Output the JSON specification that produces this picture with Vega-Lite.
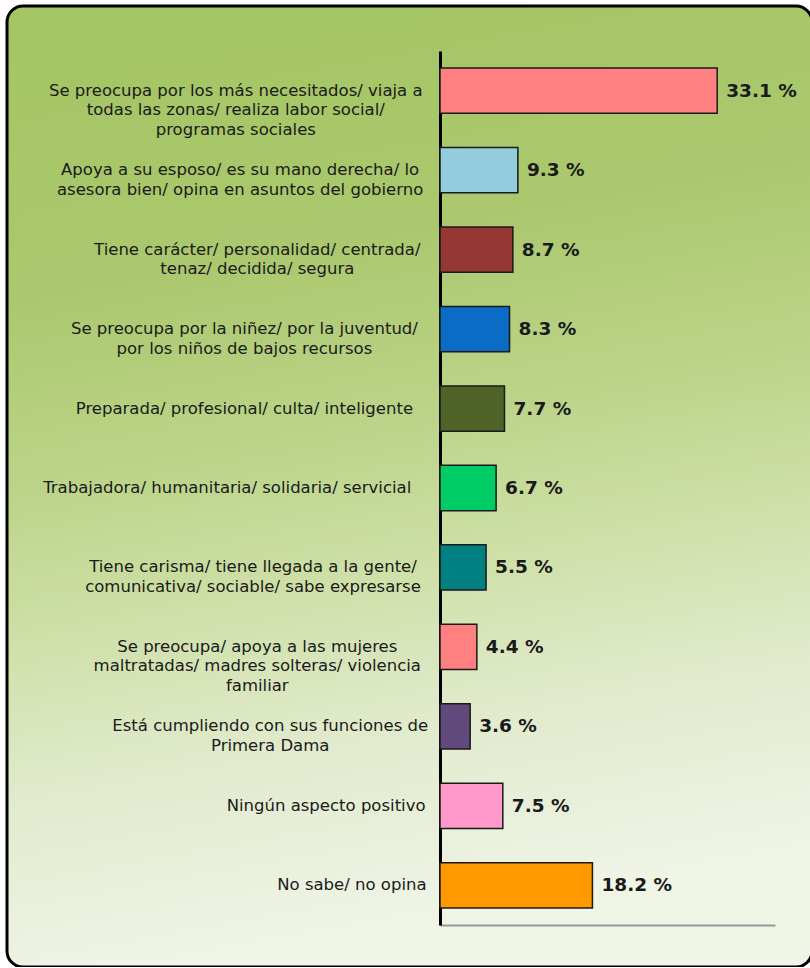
{
  "$schema": "https://vega.github.io/schema/vega-lite/v6.json",
  "autosize": "none",
  "padding": {"left": 7, "top": 6, "right": 0, "bottom": 0},
  "width": 805,
  "height": 961,
  "background": "white",
  "view": {
    "stroke": "#000000",
    "strokeWidth": 3,
    "cornerRadius": 16,
    "fill": {
      "gradient": "linear",
      "x1": 0, "y1": 0, "x2": 0.15, "y2": 1,
      "stops": [
        {"offset": 0, "color": "#a3c562"},
        {"offset": 0.3, "color": "#abc86e"},
        {"offset": 0.5, "color": "#bcd48a"},
        {"offset": 0.65, "color": "#cfe0a8"},
        {"offset": 0.8, "color": "#e0eacb"},
        {"offset": 1, "color": "#eff4e5"}
      ]
    }
  },
  "data": {
    "values": [
      {"item": "Se preocupa por los más necesitados/ viaja a|todas las zonas/ realiza labor social/|programas sociales", "value": 33.1},
      {"item": "Apoya a su esposo/ es su mano derecha/ lo|asesora bien/ opina en asuntos del gobierno", "value": 9.3},
      {"item": "Tiene carácter/ personalidad/ centrada/|tenaz/ decidida/ segura", "value": 8.7},
      {"item": "Se preocupa por la niñez/ por la juventud/|por los niños de bajos recursos", "value": 8.3},
      {"item": "Preparada/ profesional/ culta/ inteligente", "value": 7.7},
      {"item": "Trabajadora/ humanitaria/ solidaria/ servicial", "value": 6.7},
      {"item": "Tiene carisma/ tiene llegada a la gente/|comunicativa/ sociable/ sabe expresarse", "value": 5.5},
      {"item": "Se preocupa/ apoya a las mujeres|maltratadas/ madres solteras/ violencia|familiar", "value": 4.4},
      {"item": "Está cumpliendo con sus funciones de|Primera Dama", "value": 3.6},
      {"item": "Ningún aspecto positivo", "value": 7.5},
      {"item": "No sabe/ no opina", "value": 18.2}
    ]
  },
  "transform": [
    {"calculate": "format(datum.value, '.1f') + ' %'", "as": "value_label"}
  ],
  "encoding": {
    "y": {
      "field": "item",
      "type": "nominal",
      "sort": null,
      "scale": {"range": [45, 919], "paddingInner": 0.43, "paddingOuter": 0.215},
      "axis": {
        "orient": "left",
        "offset": -433,
        "title": null,
        "ticks": false,
        "labels": false,
        "domainColor": "#000000",
        "domainWidth": 3
      }
    }
  },
  "layer": [
    {
      "mark": {"type": "bar", "stroke": "#1a1a1a", "strokeWidth": 1.5},
      "encoding": {
        "x": {
          "field": "value",
          "type": "quantitative",
          "scale": {"domain": [0, 40], "range": [433, 768], "nice": false},
          "axis": {
            "orient": "bottom",
            "offset": -42,
            "title": null,
            "ticks": false,
            "labels": false,
            "grid": false,
            "domainColor": "#999999",
            "domainWidth": 2
          }
        },
        "color": {
          "field": "item",
          "type": "nominal",
          "legend": null,
          "scale": {
            "domain": [
              "Se preocupa por los más necesitados/ viaja a|todas las zonas/ realiza labor social/|programas sociales",
              "Apoya a su esposo/ es su mano derecha/ lo|asesora bien/ opina en asuntos del gobierno",
              "Tiene carácter/ personalidad/ centrada/|tenaz/ decidida/ segura",
              "Se preocupa por la niñez/ por la juventud/|por los niños de bajos recursos",
              "Preparada/ profesional/ culta/ inteligente",
              "Trabajadora/ humanitaria/ solidaria/ servicial",
              "Tiene carisma/ tiene llegada a la gente/|comunicativa/ sociable/ sabe expresarse",
              "Se preocupa/ apoya a las mujeres|maltratadas/ madres solteras/ violencia|familiar",
              "Está cumpliendo con sus funciones de|Primera Dama",
              "Ningún aspecto positivo",
              "No sabe/ no opina"
            ],
            "range": ["#ff8080", "#93cddd", "#953735", "#0a6cc4", "#4f6228", "#00cc66", "#008080", "#ff8080", "#604a7b", "#ff99cc", "#ff9900"]
          }
        }
      }
    },
    {
      "mark": {
        "type": "text",
        "align": "left",
        "baseline": "middle",
        "dx": 9,
        "font": "DejaVu Sans",
        "fontSize": 18.5,
        "fontWeight": "bold",
        "color": "#1a1a1a"
      },
      "encoding": {
        "x": {"field": "value", "type": "quantitative"},
        "text": {"field": "value_label"}
      }
    },
    {
      "mark": {
        "type": "text",
        "align": "center",
        "baseline": "middle",
        "lineBreak": "|",
        "lineHeight": 19.5,
        "font": "DejaVu Sans",
        "fontSize": 16.5,
        "color": "#1a1a1a",
        "dx": {"expr": "-15 - max(length(split(datum.item,'|')[0]), length(split(datum.item,'|')[1] || ''), length(split(datum.item,'|')[2] || '')) * 4.3"}
      },
      "encoding": {
        "x": {"datum": 0, "type": "quantitative"},
        "text": {"field": "item"}
      }
    }
  ]
}
